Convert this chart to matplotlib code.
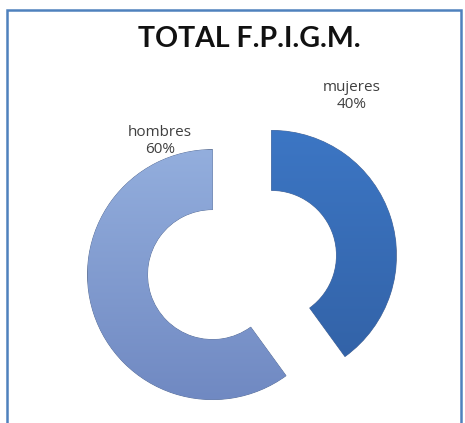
import matplotlib.pyplot as plt
import numpy as np
from matplotlib.colors import LinearSegmentedColormap
from matplotlib.patches import Rectangle

# Datos del gráfico
labels = ["mujeres", "hombres"]
values = [40, 60]
colors = ["#3A6EB5", "#8399CD"]
# degradado arriba -> abajo para cada porción
grad_colors = [("#3C76C4", "#3363A8"), ("#93AEDD", "#7089C2")]

W, H = 465, 423
fig = plt.figure(figsize=(W / 100, H / 100), dpi=100)
ax = fig.add_axes([0, 0, 1, 1])

# Anillo separado (estilo Excel), empieza arriba y va en sentido horario
wedges, _ = ax.pie(
    values,
    colors=colors,
    startangle=90,
    counterclock=False,
    center=(242, H - 265),
    radius=125,
    explode=[31, 31],
    wedgeprops=dict(width=60, edgecolor="none"),
)

ax.set_xlim(0, W)
ax.set_ylim(0, H)
ax.set_aspect("equal")
ax.axis("off")

# Relleno con degradado vertical recortado a cada porción
grad = np.linspace(1, 0, 256).reshape(-1, 1)
for w, (c_top, c_bot) in zip(wedges, grad_colors):
    cmap = LinearSegmentedColormap.from_list("g", [c_bot, c_top])
    x0, y0, x1, y1 = w.get_path().get_extents(w.get_patch_transform()).extents
    im = ax.imshow(grad, cmap=cmap, extent=(x0, x1, y0, y1), origin="upper",
                   aspect="auto", zorder=w.get_zorder() + 0.1)
    im.set_clip_path(w)
    w.set_edgecolor("#5a6f95")
    w.set_linewidth(0.6)

ax.set_xlim(0, W)
ax.set_ylim(0, H)

# Marco del gráfico (el borde inferior queda fuera)
ax.add_patch(Rectangle((7, -10), 454, H - 10 + 10, fill=False,
                       edgecolor="#4F81BD", linewidth=1.8, clip_on=False))

# Título
ax.text(249, H - 39, "TOTAL F.P.I.G.M.", ha="center", va="center",
        fontsize=20.5, fontweight="bold", family="Lato", color="#111111")

# Etiquetas con porcentaje
total = sum(values)
label_pos = {"mujeres": (352, H - 96), "hombres": (160, H - 141)}
for name, v in zip(labels, values):
    x, y = label_pos[name]
    ax.text(x, y, f"{name}\n{round(100 * v / total)}%", ha="center", va="center",
            fontsize=11, family="Open Sans", color="#404040", linespacing=1.25)

plt.savefig("out.png", dpi=100)
plt.close()
